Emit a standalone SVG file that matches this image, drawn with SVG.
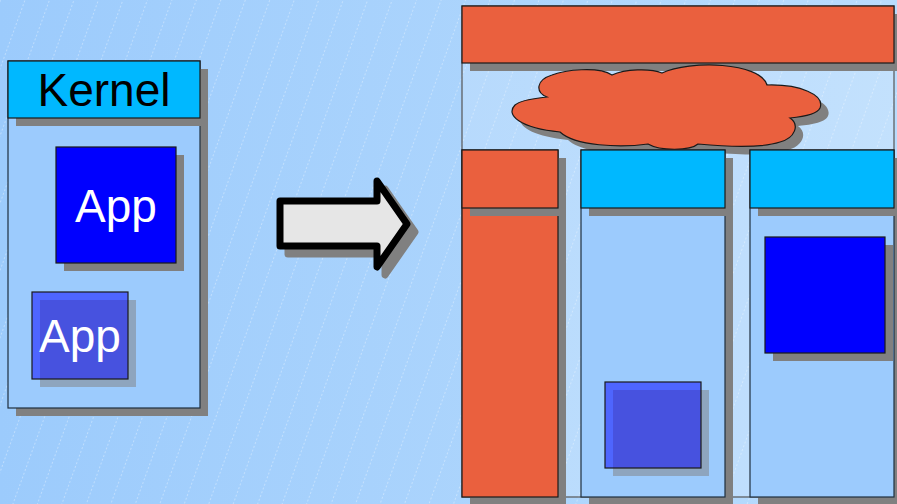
<svg xmlns="http://www.w3.org/2000/svg" width="897" height="504" viewBox="0 0 897 504">
<defs>
<linearGradient id="bg" x1="0" y1="0" x2="1" y2="0">
<stop offset="0" stop-color="#9ccbfc"/>
<stop offset="1" stop-color="#b9dcfd"/>
</linearGradient>
<pattern id="hatch" width="23" height="4" patternUnits="userSpaceOnUse" patternTransform="rotate(20)">
<rect x="0" y="0" width="1" height="2" fill="#ffffff" fill-opacity="0.33"/>
</pattern>
<path id="cloud" d="M547 97 C535 92 536 80 552 75 C565 70 598 66 612 75 C625 69 650 68 662 73 C690 60 760 62 767 85 C800 84 825 95 820 108 C817 115 800 117 790 118 C800 125 795 138 780 142 C765 147 740 148 698 144 C690 151 660 151 648 144 C620 148 575 146 560 132 C520 128 505 115 515 105 C522 99 540 98 547 97 Z"/>
<path id="arrow" d="M280 201 L377 201 L377 181 L407 224 L377 267 L377 246 L280 246 Z"/>
</defs>
<style>
.sh{fill:#808080}
.shh{fill:#808080;fill-opacity:0.5}
.body{fill:#9ccbfd;stroke:#1f2f3f;stroke-width:1.2}
.cyan{fill:#00b8ff;stroke:#1a1a1a;stroke-width:1.2}
.red{fill:#ea603e;stroke:#1a1a1a;stroke-width:1.2}
.blue{fill:#0000ff;stroke:#1a1a1a;stroke-width:1.2}
.semi{fill:#0000ff;fill-opacity:0.5;stroke:#1a1a1a;stroke-width:1.2}
.lbl{font-family:"Liberation Sans",Arial,sans-serif;font-size:46px;text-anchor:middle}
</style>
<rect width="897" height="504" fill="url(#bg)"/>
<rect width="897" height="504" fill="url(#hatch)"/>

<g id="kernel-system">
<rect class="sh" x="16" y="69" width="192" height="347"/>
<rect class="body" x="8" y="61" width="192" height="347"/>
<g id="kernel">
<rect class="sh" x="16" y="69" width="192" height="57"/>
<rect class="cyan" x="8" y="61" width="192" height="57"/>
<text class="lbl" x="104" y="106" fill="#000000">Kernel</text>
</g>
<g id="app1">
<rect class="sh" x="64" y="155" width="120" height="116"/>
<rect class="blue" x="56" y="147" width="120" height="116"/>
<text class="lbl" x="116" y="222" fill="#ffffff">App</text>
</g>
<g id="app2">
<rect class="shh" x="40" y="300" width="96" height="87"/>
<rect class="semi" x="32" y="292" width="96" height="87"/>
<text class="lbl" x="80" y="352" fill="#ffffff">App</text>
</g>
</g>

<g id="connectors">
<use href="#arrow" transform="translate(8,8)" fill="#808080" stroke="#808080" stroke-width="7" stroke-linejoin="round"/>
<use href="#arrow" fill="#e6e6e6" stroke="#000000" stroke-width="7" stroke-linejoin="round"/>
</g>

<g id="new-system">
<rect x="462" y="6" width="432" height="491" fill="#ffffff" fill-opacity="0.15" stroke="#555555" stroke-width="1.2"/>
<g id="top-bar">
<rect class="sh" x="470" y="14" width="432" height="57"/>
<rect class="red" x="462" y="6" width="432" height="57"/>
</g>
<g id="cloud-node">
<use href="#cloud" class="sh" transform="translate(8,8)"/>
<use href="#cloud" fill="#ea603e" stroke="#1a1a1a" stroke-width="1.2"/>
</g>
<g id="col1">
<rect class="sh" x="470" y="158" width="96" height="347"/>
<rect class="red" x="462" y="150" width="96" height="347"/>
<rect class="sh" x="470" y="158" width="96" height="58"/>
<rect class="red" x="462" y="150" width="96" height="58"/>
</g>
<g id="col2">
<rect class="sh" x="589" y="158" width="144" height="347"/>
<rect class="body" x="581" y="150" width="144" height="347"/>
<rect class="sh" x="589" y="158" width="144" height="58"/>
<rect class="cyan" x="581" y="150" width="144" height="58"/>
<rect class="shh" x="613" y="390" width="96" height="86"/>
<rect class="semi" x="605" y="382" width="96" height="86"/>
</g>
<g id="col3">
<rect class="sh" x="758" y="158" width="144" height="347"/>
<rect class="body" x="750" y="150" width="144" height="347"/>
<rect class="sh" x="758" y="158" width="144" height="58"/>
<rect class="cyan" x="750" y="150" width="144" height="58"/>
<rect class="sh" x="773" y="245" width="120" height="116"/>
<rect class="blue" x="765" y="237" width="120" height="116"/>
</g>
</g>
</svg>
